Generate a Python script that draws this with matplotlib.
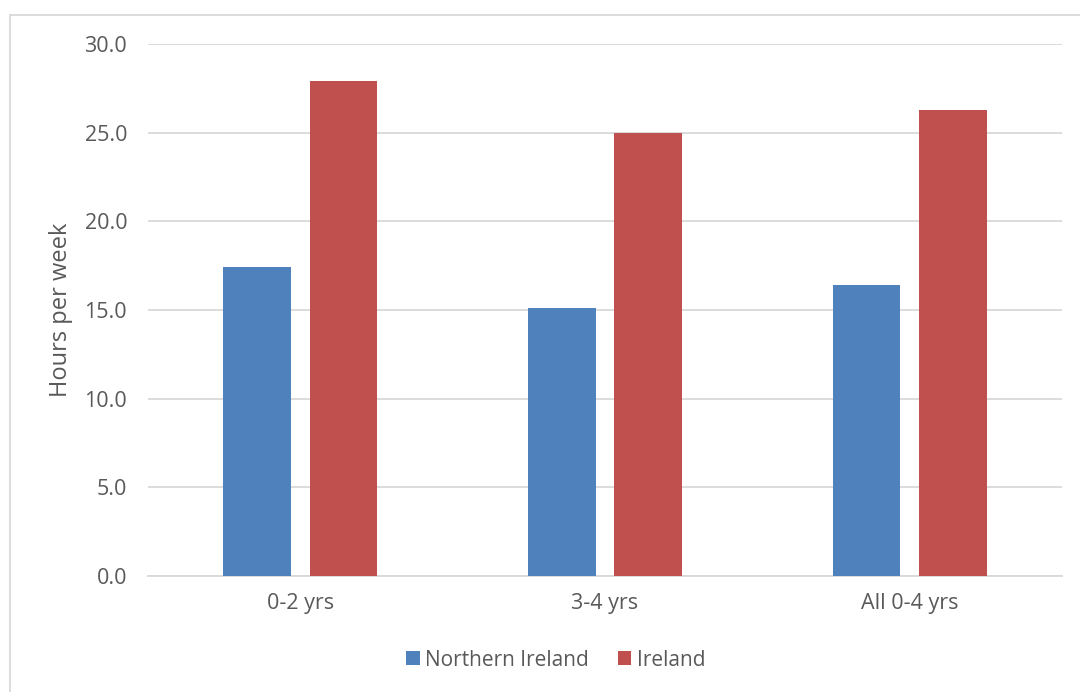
import matplotlib.pyplot as plt
import numpy as np
from matplotlib.patches import Rectangle

plt.rcParams['font.family'] = ['Open Sans', 'DejaVu Sans']

categories = ['0-2 yrs', '3-4 yrs', 'All 0-4 yrs']
northern_ireland = [17.4, 15.1, 16.4]
ireland = [27.9, 25.0, 26.3]
yticks = [0, 5, 10, 15, 20, 25, 30]

W, H = 1080, 692
fig = plt.figure(figsize=(W / 100, H / 100), dpi=100, facecolor='white')
ax = fig.add_axes([148 / W, 1 - 576 / H, 914 / W, 532 / H])

x = np.arange(len(categories))
width = 0.222
ax.bar(x - 0.142, northern_ireland, width, color='#4f81bd', label='Northern Ireland', zorder=3)
ax.bar(x + 0.142, ireland, width, color='#c0504d', label='Ireland', zorder=3)

ax.set_xlim(-0.5, 2.5)
ax.set_ylim(0, 30)
ax.set_yticks(yticks)
ax.set_yticklabels([f'{v:.1f}' for v in yticks])
ax.set_xticks(x)
ax.set_xticklabels(categories)
ax.grid(axis='y', color='#d9d9d9', linewidth=1.3, zorder=0)
for s in ['top', 'right', 'left']:
    ax.spines[s].set_visible(False)
ax.spines['bottom'].set_color('#d9d9d9')
ax.spines['bottom'].set_linewidth(1.3)
ax.tick_params(axis='both', length=0, colors='#595959', labelsize=15.5)
ax.tick_params(axis='y', pad=15)
ax.tick_params(axis='x', pad=12)
ax.set_ylabel('Hours per week', fontsize=17, color='#595959', labelpad=8)

ax.legend(loc='center', bbox_to_anchor=(0.446, -0.158), ncol=2, frameon=False,
          fontsize=15, labelcolor='#595959', handlelength=0.65, handleheight=0.65,
          handletextpad=0.25, columnspacing=1.4)

# outer chart border
fig.patches.append(Rectangle((10 / W, -0.1), 1.1, 1 - 15 / H + 0.1,
                             transform=fig.transFigure, fill=False,
                             edgecolor='#d9d9d9', linewidth=1.3))

fig.savefig('out.png', dpi=100)
